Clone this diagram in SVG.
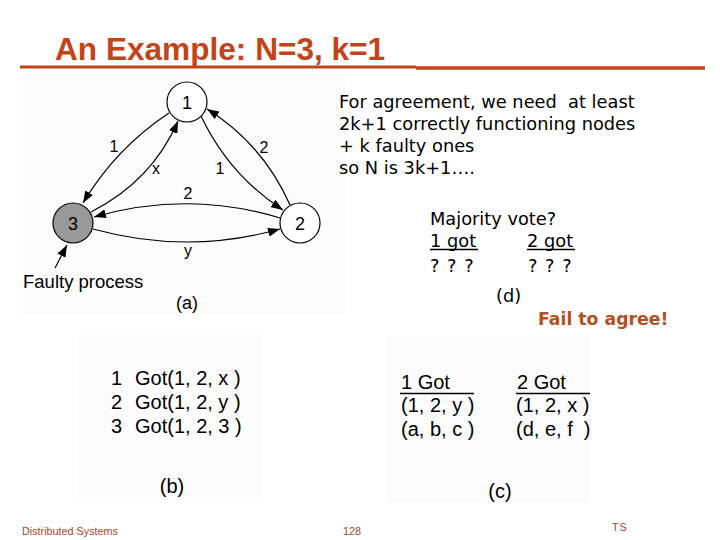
<svg xmlns="http://www.w3.org/2000/svg" width="720" height="540" viewBox="0 0 720 540">
<style>
.bg{fill:#fcfcfc;stroke:none}
.node{fill:#fff;stroke:#000;stroke-width:1.2}
.faulty{fill:#999;stroke:#000;stroke-width:1.2}
.nl{font-family:"Liberation Sans",Arial,sans-serif;font-size:18px;fill:#000;text-anchor:middle}
.el{font-family:"Liberation Sans",Arial,sans-serif;font-size:16px;fill:#000;text-anchor:middle}
.edge{fill:none;stroke:#000;stroke-width:1.2;marker-end:url(#ah)}
.hv{font-family:"Liberation Sans",Arial,sans-serif;font-size:20px;fill:#000}
.vd{font-family:"DejaVu Sans",Verdana,sans-serif;font-size:17.8px;fill:#000}
.foot{font-family:"Liberation Sans",Arial,sans-serif;font-size:10.8px;fill:#a8461e}
.rule{stroke:#c4441a;fill:none}
</style>
<defs>
<marker id="ah" markerWidth="12" markerHeight="9" refX="12" refY="4.5" orient="auto" markerUnits="userSpaceOnUse">
<path d="M0,0 L12,4.5 L0,9 z" fill="#000"/>
</marker>
</defs>
<rect width="720" height="540" fill="#fff"/>

<g id="title">
<text x="55" y="60" font-family="'Liberation Sans',Arial,sans-serif" font-size="31.6" font-weight="bold" fill="#c4441a">An Example: N=3, k=1</text>
<line class="rule" x1="20" y1="67" x2="416" y2="67" stroke-width="3"/>
<line class="rule" x1="416" y1="68" x2="705" y2="68" stroke-width="3.5"/>
</g>

<g id="panel-a">
<rect class="bg" x="20" y="75" width="325" height="239"/>
</g>
<g id="panel-b-bg"><rect class="bg" x="78" y="335" width="184" height="165"/></g>
<g id="panel-c-bg"><rect class="bg" x="386" y="337" width="204" height="165"/></g>

<g id="connectors">
<path class="edge" d="M169,113 Q116,148 83,203"/>
<path class="edge" d="M91,212 Q152,181 178,121"/>
<path class="edge" d="M201,116 Q229,175 283,210"/>
<path class="edge" d="M290,205 Q263,144 207,109"/>
<path class="edge" d="M280,218 Q188,190 94,217"/>
<path class="edge" d="M93,229 Q187,255 280,229"/>
<path class="edge" d="M55,268 L67,245"/>
<text class="el" x="114" y="152">1</text>
<text class="el" x="156" y="174">x</text>
<text class="el" x="220" y="174">1</text>
<text class="el" x="264" y="153">2</text>
<text class="el" x="188" y="199">2</text>
<text class="el" x="188" y="256">y</text>
</g>

<g id="node-1">
<circle class="node" cx="187" cy="102" r="20"/>
<text class="nl" x="187" y="108.5">1</text>
</g>
<g id="node-2">
<circle class="node" cx="300" cy="223" r="20"/>
<text class="nl" x="300" y="229.5">2</text>
</g>
<g id="node-3">
<circle class="faulty" cx="73" cy="223" r="20"/>
<text class="nl" x="73" y="229.5">3</text>
</g>
<g id="label-faulty">
<text x="23" y="288" font-family="'Liberation Sans',Arial,sans-serif" font-size="18.5" fill="#000">Faulty process</text>
<text x="187" y="309" font-family="'Liberation Sans',Arial,sans-serif" font-size="18" fill="#000" text-anchor="middle">(a)</text>
</g>

<g id="explanation">
<text class="vd" x="339" y="107.5" xml:space="preserve">For agreement, we need  at least</text>
<text class="vd" x="339" y="129.5">2k+1 correctly functioning nodes</text>
<text class="vd" x="339" y="151.5">+ k faulty ones</text>
<text class="vd" x="339" y="173.5">so N is 3k+1….</text>
</g>

<g id="panel-d">
<text class="vd" x="430" y="225">Majority vote?</text>
<text class="vd" x="430" y="246.5">1 got</text>
<line x1="430" y1="249.5" x2="478" y2="249.5" stroke="#000" stroke-width="1.4"/>
<text class="vd" x="527" y="246.5">2 got</text>
<line x1="527" y1="249.5" x2="575" y2="249.5" stroke="#000" stroke-width="1.4"/>
<text class="vd" x="430" y="272" font-size="15.5" word-spacing="2">? ? ?</text>
<text class="vd" x="528" y="272" font-size="15.5" word-spacing="2">? ? ?</text>
<text class="vd" x="496" y="301.5">(d)</text>
<text x="538" y="324.5" font-family="'DejaVu Sans',Verdana,sans-serif" font-size="17.3" font-weight="bold" fill="#b5501e">Fail to agree!</text>
</g>

<g id="panel-b">
<text class="hv" x="111" y="385">1</text>
<text class="hv" x="135" y="385">Got(1, 2, x )</text>
<text class="hv" x="111" y="409">2</text>
<text class="hv" x="135" y="409">Got(1, 2, y )</text>
<text class="hv" x="111" y="433">3</text>
<text class="hv" x="135" y="433">Got(1, 2, 3 )</text>
<text class="hv" x="172" y="493" text-anchor="middle">(b)</text>
</g>

<g id="panel-c">
<text class="hv" x="401" y="389">1 Got</text>
<line x1="400" y1="393.5" x2="474" y2="393.5" stroke="#000" stroke-width="1.3"/>
<text class="hv" x="401" y="412">(1, 2, y )</text>
<text class="hv" x="401" y="436">(a, b, c )</text>
<text class="hv" x="517" y="389">2 Got</text>
<line x1="516" y1="393.5" x2="590" y2="393.5" stroke="#000" stroke-width="1.3"/>
<text class="hv" x="516" y="412">(1, 2, x )</text>
<text class="hv" x="516" y="436" xml:space="preserve">(d, e, f  )</text>
<text class="hv" x="500" y="498" text-anchor="middle">(c)</text>
</g>

<g id="footer">
<text class="foot" x="22" y="535">Distributed Systems</text>
<text class="foot" x="343" y="535">128</text>
<text class="foot" x="612" y="531" letter-spacing="1">TS</text>
</g>
</svg>
